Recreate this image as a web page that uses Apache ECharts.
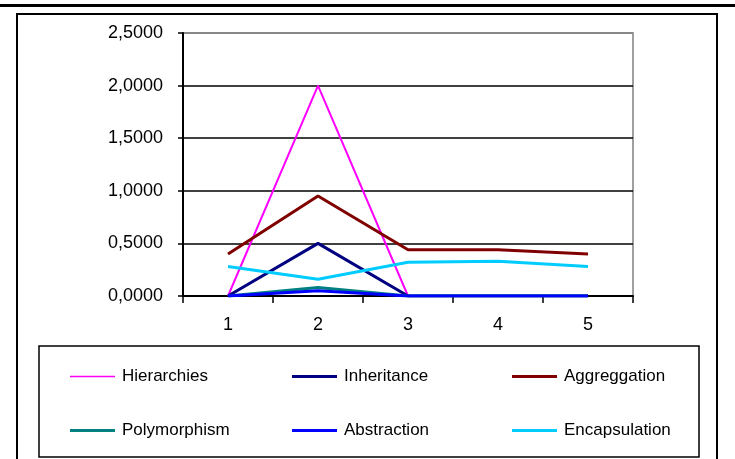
<!DOCTYPE html>
<html>
<head>
<meta charset="utf-8">
<script src="https://cdn.jsdelivr.net/npm/echarts@6/dist/echarts.min.js"></script>
<style>html,body{margin:0;padding:0;background:#fff}#c{width:735px;height:459px}</style>
</head>
<body>
<div id="c"></div>
<script>
var categories = ['1', '2', '3', '4', '5'];
var hierarchies = [0, 2.0, 0, 0, 0];
var inheritance = [0, 0.5, 0, 0, 0];
var aggreggation = [0.40, 0.95, 0.44, 0.44, 0.40];
var polymorphism = [0, 0.08, 0, 0, 0];
var abstraction = [0, 0.05, 0, 0, 0];
var encapsulation = [0.28, 0.16, 0.32, 0.33, 0.28];
var seriesNames = ['Hierarchies', 'Inheritance', 'Aggreggation', 'Polymorphism', 'Abstraction', 'Encapsulation'];
var seriesValues = [hierarchies, inheritance, aggreggation, polymorphism, abstraction, encapsulation];
var seriesColors = ['#FF00FF', '#000080', '#800000', '#008080', '#0000FF', '#00CCFF'];
var seriesWidths = [2, 3, 3, 3, 3, 3];

var FONT = '"Liberation Sans", Arial, sans-serif';
var chart = echarts.init(document.getElementById('c'), null, {renderer: 'canvas'});

var legendPos = [[70, 368], [292, 368], [512, 368], [70, 422], [292, 422], [512, 422]];
var legends = seriesNames.map(function (n, i) {
  return {
    show: true, orient: 'horizontal', padding: 0,
    data: [{name: n, icon: 'rect', itemStyle: {color: seriesColors[i]}}],
    left: legendPos[i][0], top: legendPos[i][1],
    itemWidth: 45, itemHeight: i === 0 ? 1.5 : 3, itemGap: 6,
    textStyle: {fontFamily: FONT, fontSize: 17, color: '#000', padding: [0, 0, 0, 2]}
  };
});

chart.setOption({
  animation: false,
  backgroundColor: '#fff',
  grid: {left: 183, top: 33, right: 102, bottom: 163, show: true, borderColor: '#808080', borderWidth: 1.5},
  legend: legends,
  xAxis: {
    type: 'category', data: categories, boundaryGap: true,
    axisLine: {lineStyle: {color: '#000', width: 2}},
    axisTick: {show: true, length: 7, inside: false, lineStyle: {color: '#000', width: 1.5}},
    axisLabel: {margin: 20, fontFamily: FONT, fontSize: 18, color: '#000'}
  },
  yAxis: {
    type: 'value', min: 0, max: 2.5, interval: 0.5,
    axisLine: {show: true, lineStyle: {color: '#000', width: 2}},
    axisTick: {show: true, length: 5, lineStyle: {color: '#000', width: 1.5}},
    axisLabel: {margin: 20, fontFamily: FONT, fontSize: 18, color: '#000',
      formatter: function (v) { return v.toFixed(4).replace('.', ','); }},
    splitLine: {show: true, lineStyle: {color: ['#000', '#000', '#000', '#000', '#000', '#808080'], width: 1.5}}
  },
  series: seriesNames.map(function (n, i) {
    return {
      name: n, type: 'line', data: seriesValues[i], symbol: 'none',
      lineStyle: {color: seriesColors[i], width: seriesWidths[i]},
      itemStyle: {color: seriesColors[i]},
      z: 3 + i
    };
  }),
  graphic: [
    {type: 'rect', shape: {x: 0, y: 4, width: 735, height: 3}, style: {fill: '#000'}, silent: true},
    {type: 'rect', shape: {x: 17, y: 14, width: 700, height: 460}, style: {fill: 'none', stroke: '#000', lineWidth: 2}, silent: true},
    {type: 'rect', shape: {x: 39, y: 346, width: 660, height: 111}, style: {fill: 'none', stroke: '#000', lineWidth: 1.5}, silent: true}
  ]
});
</script>
</body>
</html>
